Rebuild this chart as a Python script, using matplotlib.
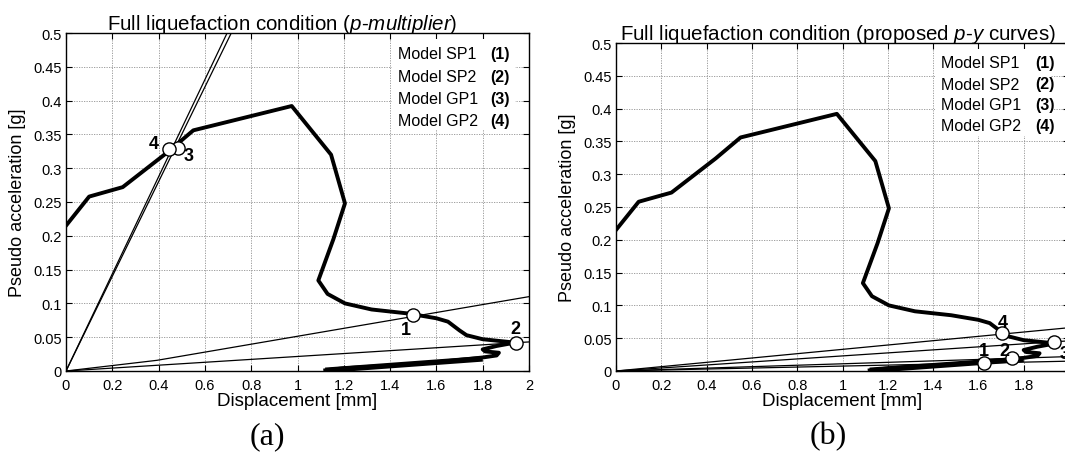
import matplotlib
matplotlib.use("Agg")
import matplotlib.pyplot as plt
from matplotlib.patches import Rectangle

plt.rcParams['font.family'] = ['Liberation Sans', 'DejaVu Sans']
plt.rcParams['mathtext.fontset'] = 'custom'
plt.rcParams['mathtext.rm'] = 'Liberation Sans'
plt.rcParams['mathtext.it'] = 'Liberation Sans:italic'
plt.rcParams['mathtext.bf'] = 'Liberation Sans:bold'

# ---- capacity curve (same in both panels) ----
cap_disp = [0, 0.10, 0.245, 0.44, 0.55, 0.975, 1.145, 1.205, 1.155, 1.09, 1.13,
            1.205, 1.32, 1.48, 1.60, 1.65, 1.70, 1.73, 1.80, 1.94, 1.86, 1.80,
            1.81, 1.87, 1.86, 1.80, 1.60, 1.40, 1.20, 1.12]
cap_acc = [0.215, 0.258, 0.272, 0.324, 0.356, 0.392, 0.320, 0.248, 0.195, 0.134, 0.114,
           0.100, 0.091, 0.085, 0.078, 0.073, 0.060, 0.053, 0.047, 0.042, 0.037, 0.032,
           0.029, 0.027, 0.023, 0.020, 0.013, 0.008, 0.004, 0.001]
# overlapping passes near the bottom (thicker tail)
tail_disp = [1.12, 1.40, 1.60, 1.80]
tail_acc = [0.001, 0.008, 0.013, 0.018]

# ---- demand lines, panel (a) ----
a_dem_disp = {
    '1': [0, 0.393, 2.0],
    '2': [0, 2.0],
    '3': [0, 0.714],
    '4': [0, 0.696],
}
a_dem_acc = {
    '1': [0, 0.0158, 0.110],
    '2': [0, 0.043],
    '3': [0, 0.5],
    '4': [0, 0.5],
}
a_pt_labels = ['1', '2', '3', '4']
a_pt_disp = [1.50, 1.945, 0.485, 0.445]
a_pt_acc = [0.083, 0.042, 0.330, 0.329]
a_lab_disp = [1.467, 1.94, 0.528, 0.38]
a_lab_acc = [0.062, 0.063, 0.319, 0.336]

# ---- demand lines, panel (b) ----
b_dem_disp = {
    '1': [0, 2.0],
    '2': [0, 2.0],
    '3': [0, 2.0],
    '4': [0, 2.0],
}
b_dem_acc = {
    '1': [0, 0.015],
    '2': [0, 0.022],
    '3': [0, 0.046],
    '4': [0, 0.066],
}
b_pt_labels = ['1', '2', '3', '4']
b_pt_disp = [1.625, 1.75, 1.935, 1.705]
b_pt_acc = [0.0122, 0.0193, 0.0437, 0.0574]
b_lab_disp = [1.625, 1.716, 1.98, 1.709]
b_lab_acc = [0.031, 0.032, 0.027, 0.074]

legend_models = ['Model SP1', 'Model SP2', 'Model GP1', 'Model GP2']
legend_ids = ['(1)', '(2)', '(3)', '(4)']

xticks = [0, 0.2, 0.4, 0.6, 0.8, 1.0, 1.2, 1.4, 1.6, 1.8, 2.0]
xticklabels = ['0', '0.2', '0.4', '0.6', '0.8', '1', '1.2', '1.4', '1.6', '1.8', '2']
yticks = [0, 0.05, 0.1, 0.15, 0.2, 0.25, 0.3, 0.35, 0.4, 0.45, 0.5]
yticklabels = ['0', '0.05', '0.1', '0.15', '0.2', '0.25', '0.3', '0.35', '0.4', '0.45', '0.5']

fig = plt.figure(figsize=(10.65, 4.56), dpi=100)
axA = fig.add_axes([66/1065, 1-372/456, 463/1065, 338/456])
axB = fig.add_axes([616/1065, 1-372/456, 453/1065, 328/456])


def panel(ax, dd, da, pl, pd, pa, ld, la, title, title_x, leg_pos):
    ax.set_xlim(0, 2)
    ax.set_ylim(0, 0.5)
    ax.set_xticks(xticks)
    ax.set_xticklabels(xticklabels)
    ax.set_yticks(yticks)
    ax.set_yticklabels(yticklabels)
    ax.tick_params(direction='in', top=True, right=True, labelsize=10.5, length=4, pad=3)
    ax.tick_params(axis='x', pad=5)
    ax.grid(True, linestyle=(0, (1.5, 1.5)), color='#909090', linewidth=0.6)
    for s in ax.spines.values():
        s.set_linewidth(1.0)
    for k in dd:
        ax.plot(dd[k], da[k], color='black', lw=0.9, zorder=3)
    ax.plot(cap_disp, cap_acc, color='black', lw=2.8, solid_joinstyle='round', zorder=4)
    ax.plot(tail_disp, tail_acc, color='black', lw=4.0, solid_capstyle='butt', zorder=4)
    ax.plot(pd, pa, 'o', ms=9.5, mfc='white', mec='black', mew=1.0, zorder=6, clip_on=False)
    for t, x, y in zip(pl, ld, la):
        ax.text(x, y, t, fontsize=13, fontweight='bold', ha='center', va='center', zorder=7)
    ax.set_xlabel('Displacement [mm]', fontsize=13.5, labelpad=0)
    ax.set_ylabel('Pseudo acceleration [g]', fontsize=13, labelpad=5)
    ax.set_title(title, fontsize=14.8, pad=3, x=title_x)
    x0, x1, y0, y1, xid, rows = leg_pos
    ax.add_patch(Rectangle((x0, y0), x1 - x0, y1 - y0, transform=ax.transAxes,
                           facecolor='white', edgecolor='none', zorder=2.5))
    for m, i, yy in zip(legend_models, legend_ids, rows):
        ax.text(x0 + 0.013, yy, m, transform=ax.transAxes, fontsize=11.5, va='center', ha='left', zorder=8)
        ax.text(xid, yy, i, transform=ax.transAxes, fontsize=11.5, fontweight='bold', va='center', ha='left', zorder=8)


panel(axA, a_dem_disp, a_dem_acc, a_pt_labels, a_pt_disp, a_pt_acc, a_lab_disp, a_lab_acc,
      r'Full liquefaction condition ($\mathit{p}$-$\mathit{multiplier}$)', 0.468,
      (0.704, 0.97, 0.716, 0.982, 0.916, [0.938, 0.870, 0.805, 0.740]))
panel(axB, b_dem_disp, b_dem_acc, b_pt_labels, b_pt_disp, b_pt_acc, b_lab_disp, b_lab_acc,
      r'Full liquefaction condition (proposed $\mathit{p}$-$\mathit{y}$ curves)', 0.49,
      (0.704, 0.96, 0.716, 0.982, 0.925, [0.942, 0.875, 0.811, 0.747]))

fig.text(267/1065, 1-437/456, '(a)', fontsize=23, family='Liberation Serif', ha='center', va='center')
fig.text(828/1065, 1-437/456, '(b)', fontsize=23, family='Liberation Serif', ha='center', va='center')

fig.savefig('out.png', dpi=100)
